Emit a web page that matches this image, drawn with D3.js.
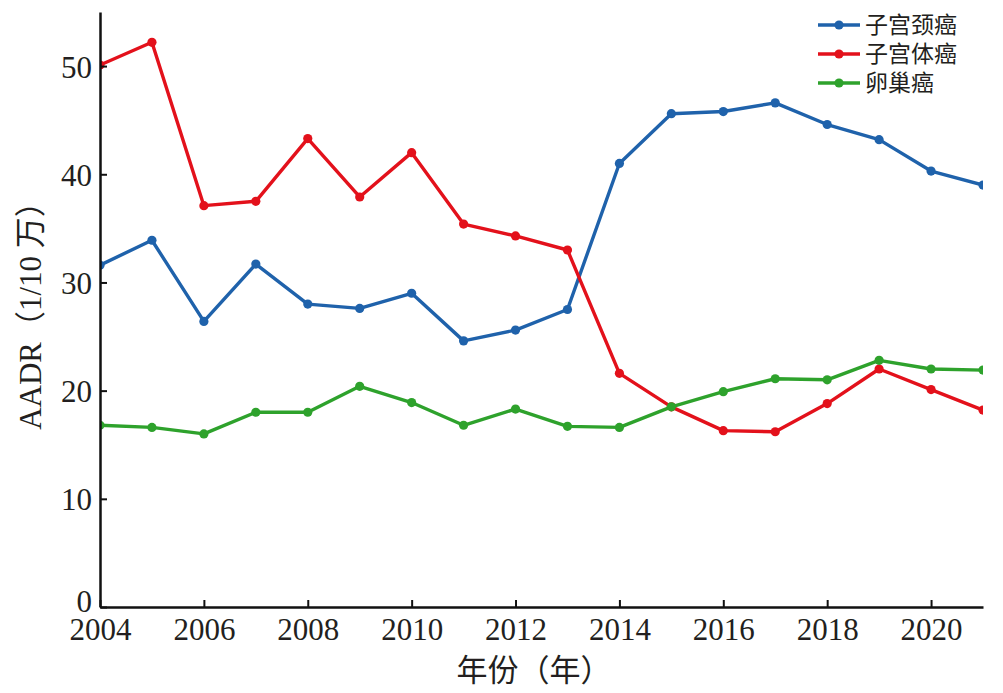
<!DOCTYPE html>
<html>
<head>
<meta charset="utf-8">
<script src="https://cdn.jsdelivr.net/npm/d3@7"></script>
<style>
  body { margin: 0; background: #fff; }
  .tick text { font-family: "Liberation Serif", "DejaVu Serif", serif; font-size: 31px; fill: #231f20; }
  .axis-title { font-family: "Liberation Serif", "Noto Sans CJK SC", serif; font-size: 31px; fill: #231f20; }
  .legend text { font-family: "Noto Sans CJK SC", sans-serif; font-size: 23px; fill: #231f20; }
</style>
</head>
<body>
<svg id="chart" width="1003" height="693"></svg>
<script>
// years on the x axis
const years = d3.range(2004, 2022);

// AADR (1/10万)
const cervical = [31.6, 33.9, 26.4, 31.7, 28.0, 27.6, 29.0, 24.6, 25.6, 27.5, 41.0, 45.6, 45.8, 46.6, 44.6, 43.2, 40.3, 39.0];
const uterine  = [50.1, 52.2, 37.1, 37.5, 43.3, 37.9, 42.0, 35.4, 34.3, 33.0, 21.6, 18.5, 16.3, 16.2, 18.8, 22.0, 20.1, 18.2];
const ovarian  = [16.8, 16.6, 16.0, 18.0, 18.0, 20.4, 18.9, 16.8, 18.3, 16.7, 16.6, 18.5, 19.9, 21.1, 21.0, 22.8, 22.0, 21.9];

const seriesNames = ['子宫颈癌', '子宫体癌', '卵巢癌'];
const seriesColors = ['#1f62ab', '#e3111b', '#2ea22c'];
const xTicks = [2004, 2006, 2008, 2010, 2012, 2014, 2016, 2018, 2020];
const yTicks = [0, 10, 20, 30, 40, 50];

const margin = { left: 100, right: 20, top: 12, bottom: 86 };
const width = 1003, height = 693;

const svg = d3.select('#chart');

const x = d3.scaleLinear()
  .domain([2004, 2021])
  .range([margin.left, width - margin.right]);

const y = d3.scaleLinear()
  .domain([0, 55])
  .range([height - margin.bottom, margin.top]);

// clip marks to the plot box
svg.append('clipPath').attr('id', 'plot-clip')
  .append('rect')
  .attr('x', margin.left)
  .attr('y', 0)
  .attr('width', width - margin.right - margin.left)
  .attr('height', height - margin.bottom);

const series = [cervical, uterine, ovarian].map((vals, i) => ({
  name: seriesNames[i],
  color: seriesColors[i],
  values: vals.map((v, j) => ({ year: years[j], value: v }))
}));

const line = d3.line()
  .x(d => x(d.year))
  .y(d => y(d.value));

const plot = svg.append('g').attr('clip-path', 'url(#plot-clip)');

series.forEach(s => {
  plot.append('path')
    .datum(s.values)
    .attr('fill', 'none')
    .attr('stroke', s.color)
    .attr('stroke-width', 3.4)
    .attr('stroke-linejoin', 'round')
    .attr('d', line);

  plot.selectAll(null)
    .data(s.values)
    .enter().append('circle')
    .attr('cx', d => x(d.year))
    .attr('cy', d => y(d.value))
    .attr('r', 4.6)
    .attr('fill', s.color);
});

// x axis, ticks pointing into the plot
const xAxis = svg.append('g')
  .attr('transform', `translate(0,${height - margin.bottom})`)
  .call(d3.axisBottom(x).tickValues(xTicks).tickFormat(d3.format('d'))
    .tickSizeInner(-7).tickSizeOuter(0).tickPadding(11));
xAxis.select('.domain').attr('stroke', '#111').attr('stroke-width', 2.5);
xAxis.selectAll('.tick line').attr('stroke', '#111').attr('stroke-width', 2);

// y axis
const yAxis = svg.append('g')
  .attr('transform', `translate(${margin.left},0)`)
  .call(d3.axisLeft(y).tickValues(yTicks)
    .tickSizeInner(-7).tickSizeOuter(0).tickPadding(8));
yAxis.select('.domain').attr('stroke', '#111').attr('stroke-width', 2.5);
yAxis.selectAll('.tick line').attr('stroke', '#111').attr('stroke-width', 2);
yAxis.selectAll('.tick text').attr('dy', '0.36em');
// the zero label sits a little above its tick, clear of the first year
yAxis.selectAll('.tick text').filter(d => d === 0).attr('y', -7);

// axis titles
svg.append('text')
  .attr('class', 'axis-title')
  .attr('x', 534)
  .attr('y', 681)
  .attr('text-anchor', 'middle')
  .text('年份（年）');

svg.append('text')
  .attr('class', 'axis-title')
  .attr('transform', 'translate(41,308) rotate(-90)')
  .attr('text-anchor', 'middle')
  .text('AADR（1/10 万）');

// legend
const legend = svg.append('g').attr('class', 'legend')
  .attr('transform', 'translate(818,25)');

series.forEach((s, i) => {
  const row = legend.append('g').attr('transform', `translate(0,${i * 29})`);
  row.append('line')
    .attr('x1', 0).attr('x2', 42)
    .attr('stroke', s.color).attr('stroke-width', 3.4);
  row.append('circle')
    .attr('cx', 21).attr('r', 4.6).attr('fill', s.color);
  row.append('text')
    .attr('x', 47)
    .attr('dy', '0.36em')
    .text(s.name);
});
</script>
</body>
</html>
